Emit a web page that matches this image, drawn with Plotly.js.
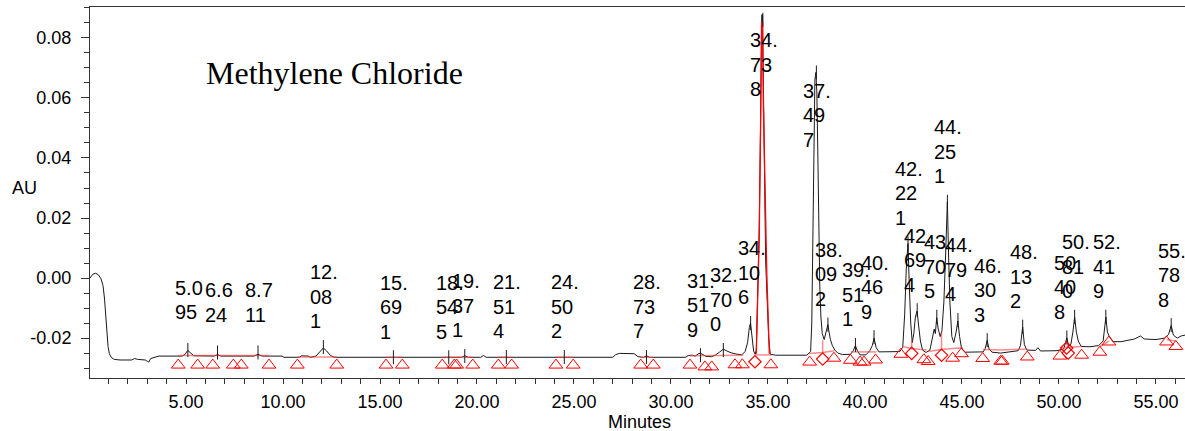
<!DOCTYPE html>
<html>
<head>
<meta charset="utf-8">
<script src="https://cdn.plot.ly/plotly-3.0.1.min.js"></script>
<style>html,body{margin:0;padding:0;background:#fff;}#chart{width:1185px;height:431px;}</style>
</head>
<body>
<div id="chart"></div>
<script>
// ---- chromatogram (minutes, AU) ----
const timeMin = [0.05,0.20,0.33,0.48,0.62,0.72,0.80,0.86,0.92,0.98,1.05,1.15,1.30,1.60,2.20,2.35,2.50,2.90,3.00,3.08,3.18,3.40,3.60,
4.80,4.95,5.09,5.22,5.40,6.45,6.62,6.80,8.50,8.71,8.92,9.95,10.05,10.85,10.95,11.30,11.42,11.70,11.88,12.08,12.25,12.45,12.65,
15.69,18.55,19.20,19.37,19.55,20.20,20.33,20.48,27.00,27.15,27.35,28.10,28.30,28.60,28.74,28.90,30.75,30.90,31.10,31.25,31.45,31.60,31.80,32.10,32.30,32.50,32.70,32.88,33.10,33.35,33.65,33.82,33.95,34.04,34.10,34.17,34.26,34.34,
34.40,34.47,34.55,34.62,34.68,34.72,34.77,34.84,34.88,34.96,35.04,35.12,35.40,37.00,37.10,37.20,37.26,37.31,37.36,37.42,37.47,37.52,37.57,37.62,37.67,37.73,37.80,37.90,37.98,38.05,38.09,38.15,38.22,38.32,38.45,38.60,38.85,
39.25,39.40,39.51,39.62,39.75,40.05,40.25,40.38,40.47,40.58,40.72,41.50,41.80,41.95,42.05,42.13,42.22,42.28,42.36,42.44,42.52,42.60,42.69,42.77,42.86,42.97,43.15,43.35,43.48,43.57,43.63,43.70,43.78,43.88,43.97,44.07,44.16,44.25,44.31,44.38,44.48,44.58,44.70,44.79,44.88,44.98,45.15,45.80,
46.10,46.20,46.30,46.40,46.55,47.00,47.50,47.90,48.02,48.13,48.22,48.35,48.80,48.92,49.05,49.90,50.25,50.41,50.50,50.62,50.72,50.81,50.90,51.00,51.15,51.60,52.05,52.28,52.42,52.50,52.60,52.78,53.20,53.60,53.90,54.20,54.40,55.00,55.45,55.65,55.79,55.90,56.10,56.30,56.50];
const absAU = [0.0000,0.0013,0.0016,0.0011,-0.0003,-0.0025,-0.0070,-0.0130,-0.0190,-0.0228,-0.0252,-0.0265,-0.0271,-0.0273,-0.0273,-0.0268,-0.0271,-0.0273,-0.0277,-0.0280,-0.0268,-0.0265,-0.0260,
-0.0260,-0.0254,-0.0241,-0.0250,-0.0259,-0.0260,-0.0255,-0.0260,-0.0260,-0.0254,-0.0260,-0.0260,-0.0264,-0.0264,-0.0259,-0.0260,-0.0264,-0.0260,-0.0247,-0.0233,-0.0243,-0.0258,-0.0264,
-0.0264,-0.0264,-0.0264,-0.0259,-0.0264,-0.0264,-0.0258,-0.0264,-0.0264,-0.0255,-0.0251,-0.0252,-0.0262,-0.0264,-0.0259,-0.0264,-0.0264,-0.0258,-0.0257,-0.0260,-0.0251,-0.0253,-0.0261,-0.0262,-0.0256,-0.0247,-0.0237,-0.0243,-0.0249,-0.0253,-0.0256,-0.0245,-0.0215,-0.0165,-0.0150,-0.0190,-0.0243,-0.0254,
-0.0240,-0.0050,0.0160,0.0520,0.0877,0.0877,0.0600,0.0330,0.0060,-0.0073,-0.0200,-0.0254,-0.0257,-0.0257,-0.0250,-0.0245,-0.0150,0.0150,0.0450,0.0660,0.0685,0.0620,0.0420,0.0150,-0.0020,-0.0130,-0.0185,-0.0205,-0.0185,-0.0158,-0.0155,-0.0180,-0.0205,-0.0225,-0.0240,-0.0250,-0.0255,
-0.0254,-0.0242,-0.0225,-0.0244,-0.0256,-0.0256,-0.0242,-0.0225,-0.0200,-0.0232,-0.0246,-0.0247,-0.0245,-0.0230,-0.0120,0.0030,0.0115,-0.0010,-0.0150,-0.0215,-0.0185,-0.0130,-0.0110,-0.0160,-0.0210,-0.0240,-0.0248,-0.0240,-0.0200,-0.0170,-0.0185,-0.0132,-0.0170,-0.0195,-0.0175,-0.0080,0.0080,0.0254,0.0080,-0.0080,-0.0195,-0.0215,-0.0180,-0.0143,-0.0195,-0.0235,-0.0247,-0.0248,
-0.0246,-0.0235,-0.0208,-0.0236,-0.0247,-0.0250,-0.0246,-0.0242,-0.0225,-0.0163,-0.0222,-0.0240,-0.0241,-0.0232,-0.0243,-0.0242,-0.0236,-0.0199,-0.0228,-0.0220,-0.0180,-0.0130,-0.0180,-0.0210,-0.0228,-0.0229,-0.0225,-0.0210,-0.0130,-0.0180,-0.0195,-0.0212,-0.0212,-0.0208,-0.0203,-0.0193,-0.0203,-0.0205,-0.0200,-0.0188,-0.0158,-0.0190,-0.0200,-0.0193,-0.0190];

// ---- main (integrated) peak drawn in red ----
const mainPeakTime = [34.40,34.47,34.55,34.62,34.67,34.72,34.76,34.85,34.94,35.07];
const mainPeakAU = [-0.0252,-0.0060,0.0140,0.0500,0.0850,0.0850,0.0590,0.0305,0.0016,-0.0252];

// ---- labelled peaks: retention time and apex height ----
const peakRT = [5.095,6.624,8.711,12.081,15.691,18.545,19.371,21.514,24.502,28.737,31.519,32.700,34.106,34.738,37.497,38.092,39.511,40.469,42.221,42.694,43.705,44.251,44.794,46.303,48.132,50.408,50.810,52.419,55.788];
const peakApexAU = [-0.0240,-0.0248,-0.0248,-0.0230,-0.0264,-0.0264,-0.0260,-0.0263,-0.0263,-0.0263,-0.0257,-0.0240,-0.0150,0.0860,0.0685,-0.0155,-0.0223,-0.0197,0.0115,-0.0107,-0.0129,0.0254,-0.0140,-0.0207,-0.0162,-0.0198,-0.0129,-0.0129,-0.0157];

// ---- peak start/end (triangles) and valley (diamond) points ----
const triTime = [4.60,5.60,6.38,7.44,7.85,9.28,10.74,12.77,15.31,16.15,18.21,18.83,18.95,19.78,21.10,21.79,24.07,24.96,28.44,29.09,30.98,31.75,32.10,33.30,33.68,35.15,37.15,38.40,39.25,39.75,39.95,40.55,41.85,43.04,43.26,44.52,44.98,46.07,47.00,47.08,48.37,50.05,51.17,52.11,52.58,55.55,56.03];
const triAU = [-0.0290,-0.0290,-0.0290,-0.0290,-0.0290,-0.0290,-0.0290,-0.0290,-0.0290,-0.0290,-0.0290,-0.0290,-0.0290,-0.0290,-0.0290,-0.0290,-0.0290,-0.0290,-0.0290,-0.0290,-0.0290,-0.0296,-0.0296,-0.0289,-0.0289,-0.0289,-0.0280,-0.0267,-0.0274,-0.0280,-0.0280,-0.0273,-0.0254,-0.0272,-0.0278,-0.0267,-0.0252,-0.0268,-0.0277,-0.0277,-0.0263,-0.0260,-0.0257,-0.0247,-0.0213,-0.0213,-0.0228];
const diaTime = [34.33,37.82,42.41,43.95,50.40,50.48];
const diaAU = [-0.0279,-0.0270,-0.0251,-0.0257,-0.0233,-0.0250];

// ---- integration baselines and drop lines (null = break) ----
const integTime = [4.60,9.28,null,10.74,12.77,null,15.31,16.15,null,18.21,19.78,null,21.10,21.79,null,24.07,24.96,null,28.44,29.09,null,30.98,33.73,null,34.33,35.19,null,37.13,37.82,38.42,null,37.82,37.82,null,39.28,40.60,null,41.92,42.41,43.18,null,42.41,42.41,null,43.26,43.95,44.52,45.04,null,43.95,43.95,null,46.07,47.05,48.37,null,50.05,50.45,51.17,null,50.45,50.45,null,52.11,52.58,null,55.55,56.03];
const integAU = [-0.0258,-0.0258,null,-0.0263,-0.0263,null,-0.0264,-0.0264,null,-0.0264,-0.0264,null,-0.0264,-0.0264,null,-0.0264,-0.0264,null,-0.0264,-0.0264,null,-0.0259,-0.0257,null,-0.0256,-0.0256,null,-0.0251,-0.0248,-0.0242,null,-0.0248,-0.0207,null,-0.0246,-0.0246,null,-0.0228,-0.0235,-0.0240,null,-0.0235,-0.0207,null,-0.0245,-0.0238,-0.0235,-0.0232,null,-0.0238,-0.0181,null,-0.0238,-0.0240,-0.0236,null,-0.0232,-0.0230,-0.0228,null,-0.0230,-0.0215,null,-0.0228,-0.0210,null,-0.0205,-0.0210];

// ---- axis tick labels ----
const yTickVals = [-0.02,0.00,0.02,0.04,0.06,0.08];
const yTickText = ["-0.02","0.00","0.02","0.04","0.06","0.08"];
const xTickVals = [5,10,15,20,25,30,35,40,45,50,55];
const xTickText = ["5.00","10.00","15.00","20.00","25.00","30.00","35.00","40.00","45.00","50.00","55.00"];

// ---------------- drawing ----------------
const SANS = "Liberation Sans, Arial, sans-serif";
const LABEL_OFFSET = 0.0167;               // label centre above apex (AU)
const LINE_STEP = 24.5;                    // px between label lines
const labelOverride = {13: 0.0710, 14: 0.0543}; // labels pushed down near the top

// wrap a retention time into a narrow column (about 2.5 digit widths per line)
function wrapRT(v) {
  const s = v.toFixed(3);
  const lines = [];
  let cur = '', w = 0;
  for (const ch of s) {
    const cw = ch === '.' ? 0.5 : 1;
    if (w + cw > 2.5 && cur) { lines.push(cur); cur = ''; w = 0; }
    cur += ch; w += cw;
  }
  if (cur) lines.push(cur);
  return lines;
}

const traces = [
  {x: timeMin, y: absAU, type: 'scatter', mode: 'lines',
   line: {color: '#1a1a1a', width: 1}, hoverinfo: 'skip'},
  {x: integTime, y: integAU, type: 'scatter', mode: 'lines', connectgaps: false,
   line: {color: 'rgba(255,60,60,0.6)', width: 1.5}, hoverinfo: 'skip'},
  {x: mainPeakTime, y: mainPeakAU, type: 'scatter', mode: 'lines',
   line: {color: '#ff0000', width: 1.3}, hoverinfo: 'skip'},
  {x: peakRT, y: peakApexAU, type: 'scatter', mode: 'markers',
   marker: {symbol: 'line-ns', size: 10, color: '#1a1a1a', line: {color: '#1a1a1a', width: 1}}, hoverinfo: 'skip'},
  {x: triTime, y: triAU, type: 'scatter', mode: 'markers',
   marker: {symbol: 'triangle-up-open', size: 12, color: '#ff0000', line: {color: '#ff0000', width: 1}}, hoverinfo: 'skip'},
  {x: diaTime, y: diaAU, type: 'scatter', mode: 'markers',
   marker: {symbol: 'diamond-open', size: 9.5, color: '#ff0000', line: {color: '#ff0000', width: 1.2}}, hoverinfo: 'skip'}
];

const annotations = [];
peakRT.forEach((rt, i) => {
  const yc = labelOverride[i] !== undefined ? labelOverride[i] : peakApexAU[i] + LABEL_OFFSET;
  const lines = wrapRT(rt);
  const n = lines.length;
  lines.forEach((t, k) => {
    annotations.push({
      x: rt, y: yc, xref: 'x', yref: 'y', text: t, showarrow: false,
      xanchor: 'left', xshift: -15, yanchor: 'middle', align: 'left',
      yshift: -(k - (n - 1) / 2) * LINE_STEP,
      font: {family: SANS, size: 20, color: '#000'}
    });
  });
});
annotations.push(
  {x: 0.2237, y: 0.822, xref: 'paper', yref: 'paper', text: 'Methylene Chloride', showarrow: false,
   xanchor: 'center', yanchor: 'middle', font: {family: 'Liberation Serif, Times New Roman, serif', size: 32, color: '#000'}},
  {x: -0.0598, y: 0.512, xref: 'paper', yref: 'paper', text: 'AU', showarrow: false,
   xanchor: 'center', yanchor: 'middle', font: {family: SANS, size: 18, color: '#000'}},
  {x: 0.502, y: -0.1186, xref: 'paper', yref: 'paper', text: 'Minutes', showarrow: false,
   xanchor: 'center', yanchor: 'middle', font: {family: SANS, size: 18, color: '#000'}}
);

const layout = {
  width: 1185, height: 431,
  margin: {l: 90, r: 0, t: 7, b: 53, pad: 0},
  paper_bgcolor: '#fff', plot_bgcolor: '#fff',
  showlegend: false,
  xaxis: {range: [0.05, 56.5], tickvals: xTickVals, ticktext: xTickText,
          ticks: 'outside', ticklen: 5, tickwidth: 1, tickcolor: '#333',
          minor: {dtick: 1, tick0: 0, ticks: 'outside', ticklen: 5, tickwidth: 1, tickcolor: '#333', showgrid: false},
          showline: true, linecolor: '#333', linewidth: 1, mirror: true,
          showgrid: false, zeroline: false, ticklabelstandoff: 2,
          tickfont: {family: SANS, size: 18, color: '#000'}},
  yaxis: {range: [-0.0333, 0.0903], tickvals: yTickVals, ticktext: yTickText,
          ticks: 'outside', ticklen: 8, tickwidth: 1, tickcolor: '#333',
          minor: {dtick: 0.005, tick0: 0, ticks: 'outside', ticklen: 5, tickwidth: 1, tickcolor: '#333', showgrid: false},
          showline: true, linecolor: '#333', linewidth: 1,
          showgrid: false, zeroline: false, ticklabelstandoff: 6,
          tickfont: {family: SANS, size: 18, color: '#000'}},
  annotations: annotations
};

Plotly.newPlot('chart', traces, layout, {displayModeBar: false, staticPlot: true});
</script>
</body>
</html>
